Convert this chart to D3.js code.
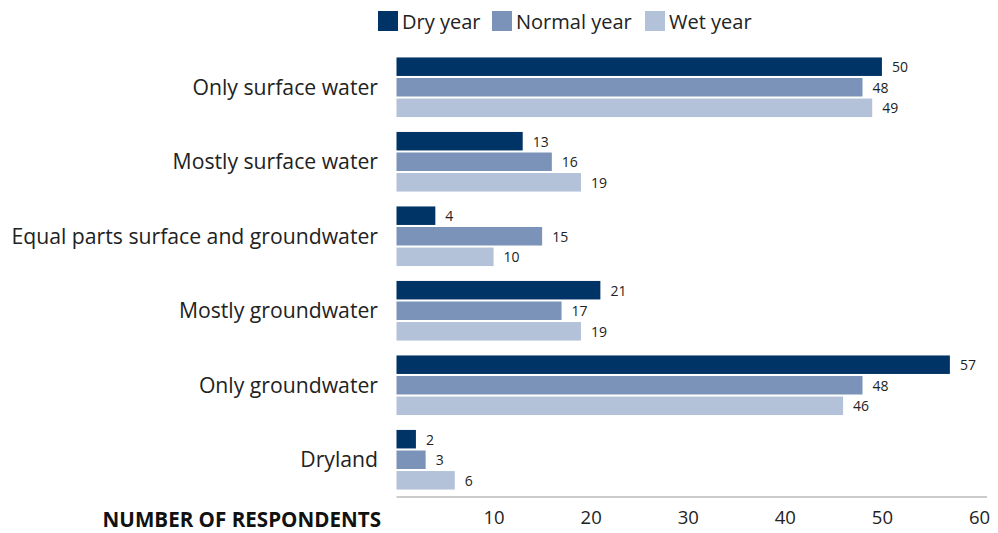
<!DOCTYPE html>
<html><head><meta charset="utf-8">
<script src="https://cdn.jsdelivr.net/npm/d3@7"></script>
<style>body{margin:0;background:#fff;font-family:"Open Sans",sans-serif;}</style>
</head><body><svg id="c" width="998" height="533"></svg>
<script>
const categories = ["Only surface water","Mostly surface water","Equal parts surface and groundwater","Mostly groundwater","Only groundwater","Dryland"];
const seriesNames = ["Dry year","Normal year","Wet year"];
const dryYear = [50,13,4,21,57,2];
const normalYear = [48,16,15,17,48,3];
const wetYear = [49,19,10,19,46,6];
const xTicks = [10,20,30,40,50,60];
const colors = ["#003366","#7b93b8","#b3c1d9"];

const series = [dryYear, normalYear, wetYear];
const svg = d3.select("#c");
const x = d3.scaleLinear().domain([0,60]).range([396.5,979]);
const y = d3.scaleBand().domain(categories).range([50,497]).paddingInner(0.2).paddingOuter(0.1);
const ys = d3.scaleBand().domain(seriesNames).range([0,y.bandwidth()]).paddingInner(0.1);

const g = svg.append("g");
categories.forEach((c,i)=>{
  seriesNames.forEach((s,j)=>{
    const v = series[j][i];
    g.append("rect").attr("x",x(0)).attr("y",y(c)+ys(s)).attr("width",x(v)-x(0)).attr("height",ys.bandwidth()).attr("fill",colors[j]);
    g.append("text").attr("x",x(v)+10).attr("y",y(c)+ys(s)+ys.bandwidth()/2+5.5).attr("font-size",14).attr("fill","#222").text(v);
  });
  g.append("text").attr("x",378).attr("y",y(c)+y.bandwidth()/2+7.5).attr("text-anchor","end").attr("font-size",21.2).attr("fill","#222").text(c);
});

// axis
const ax = svg.append("g").attr("transform","translate(0,497)").call(d3.axisBottom(x).tickValues(xTicks).tickSize(0).tickPadding(14));
ax.select(".domain").attr("stroke","#bbb").attr("stroke-width",1.5).attr("d","M"+x(0)+",0H987");
ax.selectAll("text").attr("font-size",18.5).attr("font-family","Open Sans").attr("fill","#222");
svg.append("text").attr("x",381).attr("y",527).attr("text-anchor","end").attr("font-size",20.6).attr("font-weight","bold").attr("fill","#111").text("NUMBER OF RESPONDENTS");

// legend
const legX = [378,492,645];
seriesNames.forEach((s,j)=>{
  svg.append("rect").attr("x",legX[j]).attr("y",11).attr("width",20).attr("height",20).attr("fill",colors[j]);
  svg.append("text").attr("x",legX[j]+24).attr("y",29).attr("font-size",20).attr("fill","#222").text(s);
});
</script></body></html>
